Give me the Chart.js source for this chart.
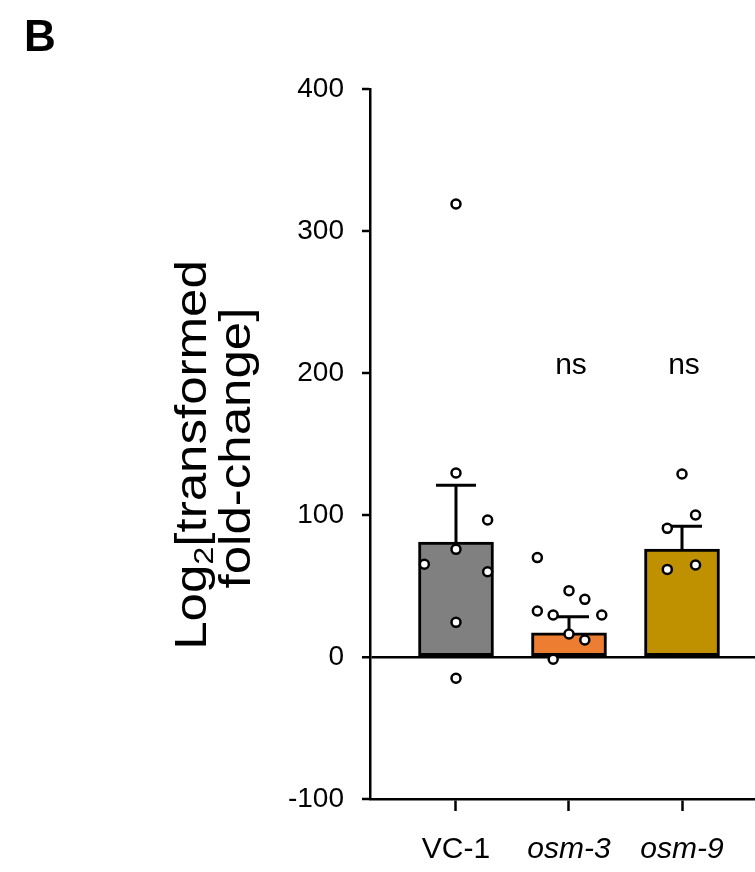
<!DOCTYPE html>
<html>
<head>
<meta charset="utf-8">
<script src="https://cdn.jsdelivr.net/npm/chart.js@4"></script>
<style>
  body { margin: 0; background: #fff; }
</style>
</head>
<body>
<canvas id="myChart" width="755" height="872"></canvas>
<script>
// groups on the x axis
const groups = ["VC-1", "osm-3", "osm-9"];
const italicGroup = [false, true, true];
// bar heights (mean) and upper error (SEM)
const means = [81, 17, 76];
const sems = [40, 11.4, 16];
// individual animals, per group
const points = [
  [319, 129.6, 96.5, 75.8, 65.3, 60, 24.4, -15],
  [70, 46.7, 40.6, 32.4, 29.6, 29.6, 16.2, 12, -1.6],
  [128.9, 100, 90.6, 64.8, 61.7]
];
// horizontal scatter of the dots (in group units)
const jitter = [
  [0, 0, 0.28, 0, -0.28, 0.28, 0, 0],
  [-0.28, 0, 0.14, -0.28, -0.14, 0.29, 0, 0.14, -0.14],
  [0, 0.12, -0.13, 0.12, -0.13]
];
const sigLabels = ["", "ns", "ns"];
const yTicks = [-100, 0, 100, 200, 300, 400];

const barColors = ["#808080", "#ED7D31", "#BF9000"];
const FONT = "Arial, 'Liberation Sans', sans-serif";

let dots = [];
points.forEach((arr, g) => {
  arr.forEach((v, i) => dots.push({ x: g + 1 + jitter[g][i], y: v }));
});

// error bars + ns + titles
const extras = {
  id: "extras",
  afterDatasetDraw(chart, args) {
    if (args.index !== 0) return;
    const c = chart.ctx, x = chart.scales.x, y = chart.scales.y;
    c.save();
    c.strokeStyle = "#000";
    c.lineWidth = 3;
    for (let i = 0; i < groups.length; i++) {
      const px = x.getPixelForValue(i + 1);
      const top = y.getPixelForValue(means[i] + sems[i]);
      c.beginPath();
      c.moveTo(px, y.getPixelForValue(means[i]));
      c.lineTo(px, top);
      c.moveTo(px - 20, top);
      c.lineTo(px + 20, top);
      c.stroke();
    }
    c.restore();
  },
  afterDraw(chart) {
    const c = chart.ctx, x = chart.scales.x, y = chart.scales.y;
    c.save();
    c.fillStyle = "#000";
    c.textAlign = "center";
    c.textBaseline = "middle";
    c.font = "30px " + FONT;
    sigLabels.forEach((s, i) => {
      if (s) c.fillText(s, x.getPixelForValue(i + 1) + 2, y.getPixelForValue(205));
    });
    // panel letter
    c.textAlign = "left";
    c.textBaseline = "alphabetic";
    c.font = "bold 44px " + FONT;
    c.fillText("B", 24, 51);
    // y title, two lines, rotated
    c.translate(0, 455);
    c.rotate(-Math.PI / 2);
    c.scale(1.16, 1);
    const big = "44px " + FONT, small = "28px " + FONT;
    const a = "Log", b = "[transformed";
    c.font = big;
    const wa = c.measureText(a).width, wb = c.measureText(b).width;
    c.font = small;
    const w2 = c.measureText("2").width;
    let sx = -(wa + w2 + wb) / 2;
    c.textAlign = "left";
    c.font = big;
    c.fillText(a, sx, 206);
    c.font = small;
    c.fillText("2", sx + wa, 213);
    c.font = big;
    c.fillText(b, sx + wa + w2, 206);
    c.textAlign = "center";
    c.fillText("fold-change]", 6, 250);
    c.restore();
  }
};

new Chart(document.getElementById("myChart"), {
  data: {
    datasets: [
      {
        type: "bar",
        data: means.map((m, i) => ({ x: i + 1, y: m })),
        backgroundColor: barColors,
        borderColor: "#000",
        borderWidth: 3,
        borderSkipped: false,
        barThickness: 75,
        order: 2
      },
      {
        type: "scatter",
        data: dots,
        pointStyle: "circle",
        radius: 4.5,
        backgroundColor: "#fff",
        borderColor: "#000",
        borderWidth: 2.5,
        order: 1
      }
    ]
  },
  options: {
    responsive: false,
    animation: false,
    layout: { autoPadding: false, padding: { top: 89, left: 0, right: 0, bottom: 0 } },
    plugins: { legend: { display: false }, tooltip: { enabled: false } },
    scales: {
      x: {
        type: "linear",
        offset: false,
        min: 0.239,
        max: 3.646,
        afterBuildTicks: (s) => { s.ticks = groups.map((g, i) => ({ value: i + 1 })); },
        afterFit: (s) => { s.height = 73; s.paddingLeft = 0; s.paddingRight = 0; },
        border: { color: "#000", width: 2.5 },
        grid: { offset: false, drawOnChartArea: false, tickLength: 12, tickColor: "#000", tickWidth: 2.5 },
        ticks: {
          color: "#000",
          padding: 21,
          maxRotation: 0,
          autoSkip: false,
          callback: (v) => groups[v - 1],
          font: (ctx) => ({ family: FONT, size: 30, style: italicGroup[ctx.index] ? "italic" : "normal" })
        }
      },
      y: {
        min: -100,
        max: 400,
        afterBuildTicks: (s) => { s.ticks = yTicks.map((v) => ({ value: v })); },
        afterFit: (s) => { s.width = 370; },
        border: { color: "#000", width: 2.5 },
        grid: {
          color: (ctx) => (ctx.tick && ctx.tick.value === 0 ? "#000" : "rgba(0,0,0,0)"),
          lineWidth: (ctx) => (ctx.tick && ctx.tick.value === 0 ? 2.5 : 0),
          tickColor: "#000",
          tickWidth: 2.5,
          tickLength: 8
        },
        ticks: {
          color: "#000",
          padding: 18,
          font: { family: FONT, size: 28 }
        }
      }
    }
  },
  plugins: [extras]
});
</script>
</body>
</html>
